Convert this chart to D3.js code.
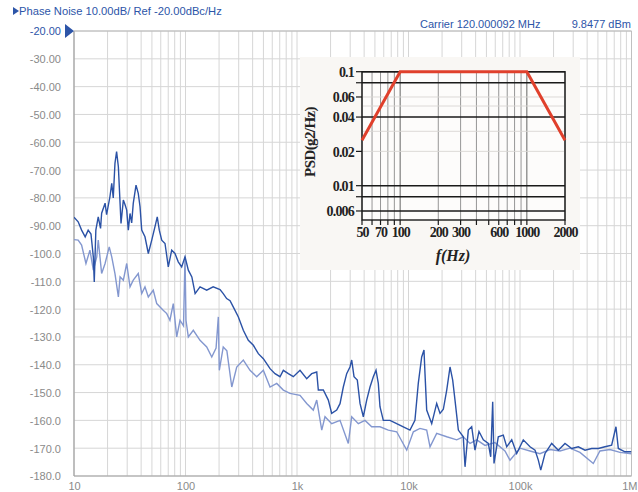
<!DOCTYPE html>
<html><head><meta charset="utf-8">
<script src="https://cdn.jsdelivr.net/npm/d3@7"></script>
<style>
html,body{margin:0;padding:0;background:#fff;}
svg{display:block;}
</style></head><body>
<svg id="c" width="638" height="492"></svg>
<script>
// ---------- data ----------
const headerLeft = "Phase Noise 10.00dB/ Ref -20.00dBc/Hz";
const headerCarrier = "Carrier 120.000092 MHz";
const headerPower = "9.8477 dBm";

const yTickValues = [-20,-30,-40,-50,-60,-70,-80,-90,-100,-110,-120,-130,-140,-150,-160,-170,-180];
const yTickLabels = ["-20.00","-30.00","-40.00","-50.00","-60.00","-70.00","-80.00","-90.00","-100.0","-110.0","-120.0","-130.0","-140.0","-150.0","-160.0","-170.0","-180.0"];
const xTickValues = [10,100,1e3,1e4,1e5,1e6];
const xTickLabels = ["10","100","1k","10k","100k","1M"];

const darkFreq = [10,10.9,11.7,12.6,13.4,14.2,14.9,15.2,15.7,16.5,17.3,17.7,19.0,19.6,21.0,21.8,22.5,23.3,24.1,25.0,25.9,26.4,27.7,28.7,29.7,30.7,31.8,32.9,34.0,36.0,37.7,39.1,40.5,43.3,46.4,49.8,53.2,55.8,58.2,61.2,65.5,70.1,75.2,80.5,86.1,92.4,99,106,114,122,135,155,177,204,218,234,251,268,298,330,366,406,450,499,535,573,635,704,754,836,927,1064,1222,1355,1503,1553,1722,1910,2047,2270,2431,2602,2790,2986,3095,3246,3475,3674,3935,4218,4517,4836,5113,5361,5549,5942,6822,7834,8979,10310,11420,12240,13130,13770,14060,14560,16150,17900,19180,20530,22020,23570,24910,26120,27990,31000,32130,34390,36870,39470,42870,46880,52000,54600,56900,58460,63870,70790,75990,84300,93400,107000,123000,136400,146000,153500,167600,192400,220600,253300,290900,333500,383000,439600,503800,578300,663600,725600,761800,874600,1000000];
const darkDb = [-87,-88.6,-91.6,-94,-91.6,-93,-101.2,-110.2,-91.6,-86.8,-91,-85.5,-81.9,-86,-79.6,-74.8,-80,-67.6,-63.4,-68.8,-82,-89.2,-80.8,-82.5,-84.4,-91.6,-85.6,-89,-82,-75.4,-78.4,-83.2,-91.6,-94,-100,-95.2,-90.4,-86.8,-91.6,-95.2,-96.4,-104.8,-98.8,-100,-103,-104.8,-101.2,-106,-108.4,-114.4,-112,-113.2,-112,-113,-114.4,-116.2,-117,-119.2,-122.8,-127.6,-131.2,-133,-136,-137.8,-139.6,-141.4,-143.2,-144.3,-142,-143.2,-144.3,-142,-145,-143.2,-142.6,-149.1,-149.1,-152.7,-157.5,-156.3,-154,-148,-143.2,-140.8,-138.3,-144.3,-145.5,-153.9,-158.7,-152.7,-148,-144.3,-142,-146.7,-155.1,-160,-160,-161.2,-162.3,-163.5,-160,-146.7,-137.2,-134.7,-143.2,-156.3,-161.2,-153.9,-157.5,-156,-149.1,-140.8,-145.5,-152.7,-163.5,-165.9,-176.7,-163.5,-162.3,-170.7,-164,-167,-168.3,-173.1,-153.3,-175.5,-165.9,-165.3,-169.5,-167,-171.9,-167,-169.5,-170.7,-174.3,-177.9,-171.9,-168.3,-170.7,-168.3,-170.1,-169.5,-170.7,-170.1,-170.1,-169.5,-168.9,-162.3,-170.1,-171.3,-171.3];

const lightFreq = [10,10.9,11.7,12.8,13.9,14.9,16.0,16.5,17.7,19.0,20.7,21.8,23.3,25.0,25.9,27.7,29.7,31.8,34.0,37.7,40.5,43.3,46.4,51.4,55.2,59.1,63.1,67.9,72.5,77.7,83.4,89.3,96,99,101,106,117.5,135,155,172,188,197,201,218,235,260,288,330,379,435,499,573,658,754,865,1064,1222,1400,1503,1667,1783,2047,2431,2885,3095,3548,4074,4677,5549,6590,7834,9638,11050,12670,14560,15600,17900,22020,27050,31000,35650,40930,48550,59700,73300,81300,100000,123000,151000,185700,228400,280600,345100,454300,521000,640600,788300,1000000];
const lightDb = [-95,-95.2,-97,-103.6,-98.8,-106,-101.2,-95.2,-107.2,-103.6,-97.6,-101.2,-107.2,-115.6,-108.4,-109.6,-103.6,-112,-109.6,-107.2,-114.4,-112,-115.6,-113.2,-118,-119.2,-120.4,-121.6,-124,-118,-130,-124,-126,-101.2,-124,-130,-127.6,-131.2,-133.6,-137.2,-134,-122.8,-142,-133.6,-135,-148,-140.8,-138.3,-142,-144.3,-142,-148,-146.7,-149.1,-150.3,-151,-153.9,-156.3,-152.7,-163.5,-158.7,-161.2,-160,-168.3,-158.7,-161.2,-160,-162.3,-162.3,-163.5,-164.1,-170.7,-164.1,-162.9,-163.5,-169.5,-164.7,-165.9,-167,-165.9,-168.3,-167,-169,-168,-171,-174.3,-170,-171,-172,-170.5,-171,-170,-171.5,-175.5,-171,-170.5,-171.5,-172];

// inset (PSD profile picture)
const psdFreq = [50,100,1000,2000];
const psdVal = [0.025,0.1,0.1,0.025];
const insetYTicks = [0.1,0.06,0.04,0.02,0.01,0.006];
const insetYTickLabels = ["0.1","0.06","0.04","0.02","0.01","0.006"];
const insetXTicks = [50,70,100,200,300,600,1000,2000];
const insetXTickLabels = ["50","70","100","200","300","600","1000","2000"];
const insetHeavyY = [0.1,0.08,0.04,0.01,0.008,0.006];
const insetLightY = [0.06,0.05,0.03,0.02];
const insetMinorX = [50,60,70,80,90,100,200,300,400,500,600,700,800,900,1000,2000];

// ---------- drawing ----------
const svg = d3.select("#c");
const L = 74, R = 631.5, T = 31, B = 476;
const x = d3.scaleLog().domain([10,1e6]).range([L,R]);
const y = d3.scaleLinear().domain([-180,-20]).range([B,T]);
const blue = "#2d55a8";
const font = "'Liberation Sans', Arial, sans-serif";

// gridlines
const minor = [];
for (let d=10; d<1e6; d*=10) for (let k=1;k<=9;k++) minor.push(d*k);
minor.push(1e6);
svg.append("g").selectAll("line").data(minor).join("line")
  .attr("x1",d=>x(d)).attr("x2",d=>x(d)).attr("y1",T).attr("y2",B)
  .attr("stroke","#d6d6d6").attr("stroke-width",1);
svg.append("g").selectAll("line").data(yTickValues).join("line")
  .attr("x1",L).attr("x2",R).attr("y1",d=>y(d)).attr("y2",d=>y(d))
  .attr("stroke","#d6d6d6").attr("stroke-width",1);
// frame
svg.append("line").attr("x1",L).attr("x2",L).attr("y1",T).attr("y2",B).attr("stroke","#a0a0a0").attr("stroke-width",1.2);
svg.append("line").attr("x1",L).attr("x2",R).attr("y1",B).attr("y2",B).attr("stroke","#a0a0a0").attr("stroke-width",1.2);
svg.append("line").attr("x1",R).attr("x2",R).attr("y1",T).attr("y2",B).attr("stroke","#c0c0c0").attr("stroke-width",1);
svg.append("line").attr("x1",L).attr("x2",R).attr("y1",T).attr("y2",T).attr("stroke","#b8b8b8").attr("stroke-width",1);

// axes (labels)
const yAxis = d3.axisLeft(y).tickValues(yTickValues).tickSize(0).tickPadding(0)
  .tickFormat((d,i)=>yTickLabels[i]);
const gy = svg.append("g").attr("transform",`translate(${L-13},0)`).call(yAxis);
gy.select(".domain").remove();
gy.selectAll("text").attr("font-family",font).attr("font-size",11)
  .attr("fill",(d,i)=>i===0?blue:"#8a8a8a").attr("dy","0.36em");

const xAxis = d3.axisBottom(x).tickValues(xTickValues).tickSize(0).tickPadding(0)
  .tickFormat((d,i)=>xTickLabels[i]);
const gx = svg.append("g").attr("transform",`translate(0,${B+5})`).call(xAxis);
gx.select(".domain").remove();
gx.selectAll("text").attr("font-family",font).attr("font-size",11).attr("fill","#8a8a8a").attr("dy","0.8em");
gx.selectAll("text").filter((d,i)=>i===xTickValues.length-1)
  .attr("text-anchor","end").attr("x",637-R);

// reference marker
svg.append("path").attr("d",`M${L-9},${y(-20)-7} L${L},${y(-20)} L${L-9},${y(-20)+7} Z`).attr("fill",blue);

// header
svg.append("path").attr("d","M13,7 L19,11 L13,15 Z").attr("fill",blue);
svg.append("text").attr("x",19).attr("y",15).text(headerLeft)
  .attr("font-family",font).attr("font-size",11.2).attr("fill",blue);
svg.append("text").attr("x",420).attr("y",28).text(headerCarrier)
  .attr("font-family",font).attr("font-size",11).attr("fill",blue);
svg.append("text").attr("x",631).attr("y",28).attr("text-anchor","end").text(headerPower)
  .attr("font-family",font).attr("font-size",11).attr("fill",blue);

// traces
svg.append("clipPath").attr("id","pc").append("rect").attr("x",L).attr("y",T).attr("width",R-L).attr("height",B-T);
const line = d3.line().x(d=>x(d[0])).y(d=>y(d[1]));
const lightData = lightFreq.map((f,i)=>[f,lightDb[i]]);
const darkData = darkFreq.map((f,i)=>[f,darkDb[i]]);
svg.append("path").datum(lightData).attr("d",line).attr("fill","none")
  .attr("stroke","#8397cf").attr("stroke-width",1.4).attr("clip-path","url(#pc)");
svg.append("path").datum(darkData).attr("d",line).attr("fill","none")
  .attr("stroke","#2b52a6").attr("stroke-width",1.4).attr("clip-path","url(#pc)");

// ---------- inset ----------
const ins = svg.append("g");
ins.append("rect").attr("x",300).attr("y",57).attr("width",280).attr("height",213).attr("fill","#f9f7f4");
const ix = d3.scaleLog().domain([50,2000]).range([362,565]);
const iy = d3.scaleLog().domain([0.005,0.1]).range([220,71.7]);
const serif = "'Liberation Serif','DejaVu Serif',serif";
ins.append("rect").attr("x",362).attr("y",71.7).attr("width",203).attr("height",148.3).attr("fill","#fdfcfb");
ins.append("g").selectAll("line").data(insetMinorX).join("line")
  .attr("x1",d=>ix(d)).attr("x2",d=>ix(d)).attr("y1",71.7).attr("y2",220)
  .attr("stroke",d=>(d===100||d===1000)?"#555":"#8a8a8a").attr("stroke-width",0.9);
ins.append("g").selectAll("line").data(insetLightY).join("line")
  .attr("x1",362).attr("x2",565).attr("y1",d=>iy(d)).attr("y2",d=>iy(d))
  .attr("stroke","#d8d6d2").attr("stroke-width",0.9);
ins.append("g").selectAll("line").data(insetHeavyY).join("line")
  .attr("x1",362).attr("x2",565).attr("y1",d=>iy(d)).attr("y2",d=>iy(d))
  .attr("stroke","#1a1a1a").attr("stroke-width",1.4);
ins.append("rect").attr("x",362).attr("y",71.7).attr("width",203).attr("height",148.3)
  .attr("fill","none").attr("stroke","#1a1a1a").attr("stroke-width",1.4);
// ticks
ins.append("g").selectAll("line").data([0.1,0.08,0.06,0.04,0.02,0.01,0.008,0.006]).join("line")
  .attr("x1",356).attr("x2",362).attr("y1",d=>iy(d)).attr("y2",d=>iy(d)).attr("stroke","#1a1a1a").attr("stroke-width",1.2);
ins.append("g").selectAll("line").data(insetMinorX).join("line")
  .attr("x1",d=>ix(d)).attr("x2",d=>ix(d)).attr("y1",220).attr("y2",225).attr("stroke","#1a1a1a").attr("stroke-width",1.2);
// red PSD line
ins.append("path").datum(psdFreq.map((f,i)=>[f,psdVal[i]]))
  .attr("d",d3.line().x(d=>ix(d[0])).y(d=>iy(d[1])))
  .attr("fill","none").attr("stroke","#e0402c").attr("stroke-width",3);
// labels
const iyAxis = d3.axisLeft(iy).tickValues(insetYTicks).tickSize(0).tickPadding(0).tickFormat((d,i)=>insetYTickLabels[i]);
const giy = ins.append("g").attr("transform","translate(354,0)").call(iyAxis);
giy.select(".domain").remove();
giy.selectAll("text").attr("font-family",serif).attr("font-size",14).attr("font-weight","bold")
  .attr("fill","#222").attr("dy","0.35em").attr("letter-spacing","-0.8");
const ixAxis = d3.axisBottom(ix).tickValues(insetXTicks).tickSize(0).tickPadding(0).tickFormat((d,i)=>insetXTickLabels[i]);
const gix = ins.append("g").attr("transform","translate(0,227)").call(ixAxis);
gix.select(".domain").remove();
gix.selectAll("text").attr("font-family",serif).attr("font-size",14).attr("font-weight","bold")
  .attr("fill","#222").attr("dy","0.72em").attr("letter-spacing","-1");
ins.append("text").attr("x",453).attr("y",261).attr("text-anchor","middle")
  .attr("font-family",serif).attr("font-size",16).attr("font-weight","bold").attr("font-style","italic")
  .attr("fill","#222").text("f(Hz)");
ins.append("text").attr("transform","translate(315,142) rotate(-90)").attr("text-anchor","middle")
  .attr("font-family",serif).attr("font-size",15).attr("font-weight","bold")
  .attr("fill","#222").attr("letter-spacing","-0.6").text("PSD(g2/Hz)");
</script>
</body></html>
